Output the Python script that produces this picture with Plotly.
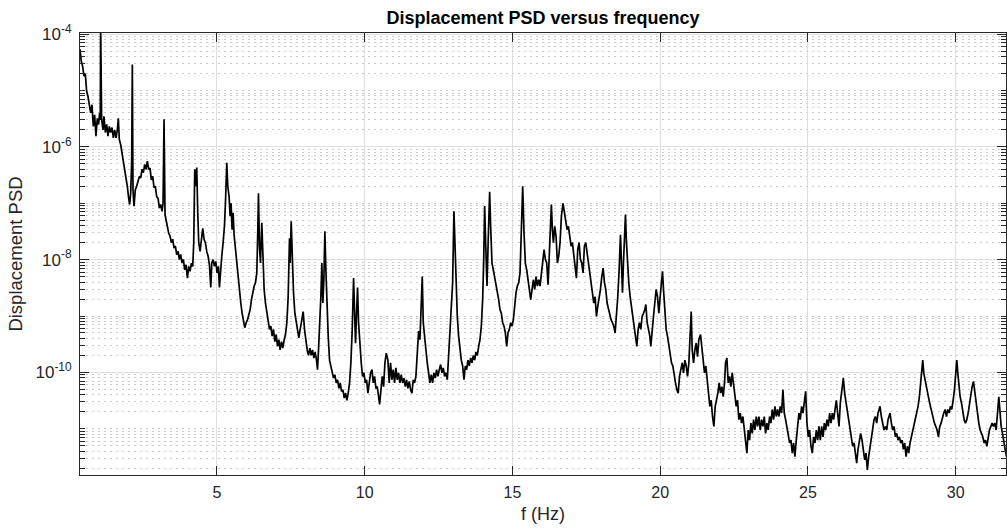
import plotly.graph_objects as go

# ---- data (frequency in Hz, displacement PSD) ----
f_low = [
    0.368, 0.413, 0.459, 0.504, 0.549, 0.594, 0.639, 0.684, 0.730, 0.775,
    0.820, 0.865, 0.910, 0.955, 1.000, 1.034, 1.056, 1.068, 1.080, 1.102,
    1.147, 1.181, 1.226, 1.272, 1.317, 1.362, 1.407, 1.452, 1.497, 1.542,
    1.588, 1.633, 1.667, 1.700, 1.746, 1.791, 1.836, 1.881, 1.926, 1.971,
    2.016, 2.050, 2.084, 2.118, 2.141, 2.163, 2.197, 2.242, 2.288, 2.333,
    2.378, 2.423, 2.468, 2.513, 2.559, 2.604, 2.649, 2.694, 2.739, 2.784,
    2.830, 2.875, 2.920, 2.965, 3.010, 3.055, 3.100, 3.146, 3.180, 3.213,
    3.247, 3.281, 3.326, 3.371, 3.417, 3.462, 3.507, 3.552, 3.597, 3.642,
    3.688, 3.733, 3.778, 3.823, 3.868, 3.913, 3.959, 4.004, 4.049, 4.094,
    4.139, 4.184, 4.218, 4.252, 4.286, 4.320, 4.354, 4.387, 4.433, 4.478,
    4.523, 4.568, 4.613, 4.658, 4.704, 4.749, 4.794, 4.828, 4.873, 4.918,
    4.963, 5.008, 5.054, 5.087, 5.121, 5.167, 5.212, 5.257, 5.291, 5.336,
    5.370, 5.415, 5.449, 5.482, 5.516, 5.550, 5.584, 5.629, 5.674, 5.720,
    5.765, 5.810, 5.855, 5.900, 5.945, 5.991, 6.036, 6.081, 6.126, 6.171,
    6.216, 6.262, 6.307, 6.352, 6.386, 6.408, 6.442, 6.476, 6.521, 6.555,
    6.600, 6.645, 6.691, 6.736, 6.781, 6.826, 6.871, 6.916, 6.962, 7.007,
    7.052, 7.097, 7.142, 7.187, 7.233, 7.278, 7.323, 7.368, 7.413, 7.458,
    7.481, 7.515, 7.549, 7.594, 7.639, 7.684, 7.729, 7.774, 7.820, 7.865,
    7.921, 7.966, 8.011, 8.056, 8.101, 8.147, 8.192, 8.237, 8.282, 8.327,
    8.372, 8.406, 8.440, 8.485, 8.519, 8.553, 8.587, 8.621, 8.655, 8.689,
    8.722, 8.768, 8.813, 8.858, 8.903, 8.948, 8.993, 9.039, 9.084, 9.129,
    9.174, 9.219, 9.264, 9.310, 9.355, 9.400, 9.445, 9.490, 9.535, 9.581,
    9.626, 9.660, 9.693, 9.727, 9.761, 9.795, 9.840, 9.885, 9.930, 9.976,
    10.021, 10.066, 10.111, 10.156, 10.202, 10.247, 10.292, 10.337, 10.382, 10.427,
    10.473, 10.507, 10.552, 10.597, 10.642, 10.687, 10.732,
]
psd_low = [
    5.4e-5, 3.3e-5, 2.7e-5, 1.8e-5, 2.0e-5, 9.8e-6, 7.9e-6, 5.2e-6, 4.0e-6, 5.6e-6,
    2.3e-6, 3.7e-6, 1.55e-6, 3.2e-6, 2.5e-6, 4.0e-6, 3.0e-6, 1.5e-4, 3.5e-6, 3.1e-6,
    2.0e-6, 3.5e-6, 1.8e-6, 2.5e-6, 1.55e-6, 2.3e-6, 1.8e-6, 2.2e-6, 1.45e-6, 2.0e-6,
    1.45e-6, 2.0e-6, 3.2e-6, 1.35e-6, 1.1e-6, 7.8e-7, 6.3e-7, 4.0e-7, 3.0e-7, 2.0e-7,
    1.23e-7, 9.5e-8, 1.5e-7, 5.2e-7, 2.9e-5, 1.74e-7, 8.9e-8, 1.74e-7, 2.0e-7, 2.45e-7,
    3.0e-7, 2.8e-7, 4.0e-7, 3.5e-7, 4.9e-7, 4.0e-7, 5.6e-7, 4.0e-7, 4.2e-7, 2.6e-7,
    3.0e-7, 1.9e-7, 2.0e-7, 1.3e-7, 1.23e-7, 8.3e-8, 9.5e-8, 7.2e-8, 1.0e-7, 3.1e-6,
    6.3e-8, 5.1e-8, 3.6e-8, 2.95e-8, 2.6e-8, 2.0e-8, 2.3e-8, 1.6e-8, 1.74e-8, 1.23e-8,
    1.4e-8, 1.0e-8, 1.23e-8, 8.7e-9, 1.0e-8, 6.6e-9, 8.1e-9, 4.7e-9, 7.6e-9, 6.2e-9,
    8.7e-9, 7.6e-9, 2.0e-8, 4.0e-7, 2.0e-7, 4.3e-7, 6.8e-8, 2.0e-8, 1.4e-8, 2.6e-8,
    3.6e-8, 2.3e-8, 2.0e-8, 1.4e-8, 1.15e-8, 8.1e-9, 3.2e-9, 8.7e-9, 1.0e-8, 7.6e-9,
    9.3e-9, 5.8e-9, 7.6e-9, 3.2e-9, 6.6e-9, 1.15e-8, 2.0e-8, 3.9e-8, 1.0e-7, 5.2e-7,
    2.0e-7, 1.3e-7, 5.9e-8, 1.0e-7, 3.4e-8, 6.8e-8, 2.75e-8, 1.5e-8, 8.7e-9, 4.4e-9,
    2.6e-9, 1.7e-9, 1.12e-9, 8.5e-10, 6.2e-10, 7.6e-10, 8.5e-10, 1.05e-9, 1.3e-9, 1.95e-9,
    2.6e-9, 3.4e-9, 3.9e-9, 5.8e-9, 3.4e-8, 1.5e-7, 1.74e-8, 8.7e-9, 4.5e-8, 8.7e-9,
    2.95e-9, 1.7e-9, 1.12e-9, 7.6e-10, 5.8e-10, 6.6e-10, 4.4e-10, 5.8e-10, 3.5e-10, 4.7e-10,
    2.9e-10, 3.8e-10, 2.5e-10, 3.5e-10, 2.7e-10, 3.8e-10, 4.7e-10, 7.6e-10, 2.2e-9, 2.4e-8,
    8.7e-9, 4.8e-8, 8.7e-9, 2.6e-9, 1.12e-9, 7.6e-10, 5.0e-10, 4.1e-10, 5.8e-10, 7.6e-10,
    1.2e-9, 5.8e-10, 3.5e-10, 2.5e-10, 2.0e-10, 2.7e-10, 2.0e-10, 2.5e-10, 1.8e-10, 2.3e-10,
    1.65e-10, 1.12e-10, 2.5e-10, 7.6e-10, 2.2e-9, 8.7e-9, 1.7e-9, 4.4e-9, 3.2e-8, 6.6e-9,
    1.7e-9, 4.4e-10, 1.65e-10, 1.3e-10, 9.8e-11, 7.9e-11, 9.1e-11, 6.5e-11, 7.4e-11, 5.2e-11,
    6.5e-11, 4.6e-11, 4.9e-11, 3.5e-11, 4.3e-11, 3.2e-11, 4.3e-11, 6.5e-11, 1.48e-10, 5.8e-10,
    4.7e-9, 1.12e-9, 3.3e-10, 1.12e-9, 3.2e-9, 7.6e-10, 2.5e-10, 1.48e-10, 8.5e-11, 9.8e-11,
    6.5e-11, 7.4e-11, 4.3e-11, 6.5e-11, 9.8e-11, 1.12e-10, 6.5e-11, 8.5e-11, 5.2e-11, 5.6e-11,
    3.2e-11, 2.7e-11, 4.9e-11, 8.5e-11, 5.6e-11, 1.48e-10, 2.2e-10,
]

f_mid = [
    10.787, 10.832, 10.877, 10.922, 10.968, 11.013, 11.058, 11.103, 11.148, 11.193,
    11.239, 11.284, 11.329, 11.374, 11.419, 11.464, 11.510, 11.555, 11.600, 11.645,
    11.690, 11.735, 11.780, 11.826, 11.871, 11.916, 11.950, 11.984, 12.029, 12.074,
    12.119, 12.164, 12.209, 12.255, 12.300, 12.345, 12.390, 12.435, 12.480, 12.526,
    12.571, 12.616, 12.661, 12.706, 12.751, 12.797, 12.842, 12.887, 12.932, 12.977,
    13.022, 13.056, 13.090, 13.135, 13.180, 13.225, 13.271, 13.316, 13.361, 13.406,
    13.451, 13.496, 13.542, 13.587, 13.632, 13.677, 13.722, 13.767, 13.813, 13.858,
    13.903, 13.948, 13.993, 14.027, 14.061, 14.095, 14.140, 14.185, 14.230, 14.264,
    14.309, 14.354, 14.400, 14.445, 14.490, 14.535, 14.580, 14.625, 14.671, 14.716,
    14.761, 14.806, 14.851, 14.896, 14.942, 14.987, 15.032, 15.077, 15.122, 15.167,
    15.213, 15.258, 15.303, 15.348, 15.393, 15.438, 15.484, 15.529, 15.574, 15.619,
    15.664, 15.709, 15.755, 15.800, 15.845, 15.890, 15.935, 15.980, 16.026, 16.071,
    16.116, 16.161, 16.206, 16.251, 16.296, 16.319, 16.353, 16.387, 16.432, 16.477,
    16.522, 16.567, 16.612, 16.658, 16.714, 16.759, 16.804, 16.849, 16.894, 16.940,
    16.985, 17.030, 17.075, 17.120, 17.165, 17.211, 17.256, 17.301, 17.346, 17.391,
    17.436, 17.482, 17.527, 17.572, 17.617, 17.662, 17.707, 17.753, 17.798, 17.843,
    17.888, 17.933, 17.978, 18.024, 18.069, 18.114, 18.159, 18.204, 18.249, 18.295,
    18.340, 18.385, 18.430, 18.475, 18.520, 18.565, 18.611, 18.656, 18.690, 18.724,
    18.757, 18.791, 18.825, 18.859, 18.893, 18.938, 18.983, 19.028, 19.073, 19.118,
    19.164, 19.209, 19.254, 19.299, 19.344, 19.389, 19.435, 19.480, 19.514, 19.559,
    19.604, 19.649, 19.683, 19.728, 19.773, 19.818, 19.863, 19.909, 19.954, 19.999,
    20.044, 20.078, 20.112, 20.157, 20.202, 20.247, 20.293, 20.338, 20.383, 20.428,
    20.473, 20.518, 20.564, 20.609, 20.654, 20.699, 20.744, 20.789, 20.835, 20.880,
    20.925, 20.970, 21.015, 21.049, 21.083, 21.128, 21.173,
]
psd_mid = [
    1.65e-10, 6.5e-11, 1.48e-10, 7.4e-11, 1.12e-10, 6.5e-11, 1.2e-10, 7.4e-11, 9.8e-11, 6.5e-11,
    9.1e-11, 6.5e-11, 7.9e-11, 5.6e-11, 7.4e-11, 5.2e-11, 6.9e-11, 4.9e-11, 4.3e-11, 7.4e-11,
    6.5e-11, 8.5e-11, 1.9e-10, 5.4e-10, 3.8e-10, 1.48e-9, 5.0e-9, 7.6e-10, 3.8e-10, 2.5e-10,
    1.48e-10, 9.8e-11, 6.5e-11, 9.1e-11, 6.5e-11, 9.8e-11, 7.9e-11, 1.12e-10, 8.5e-11, 1.12e-10,
    1.38e-10, 9.8e-11, 1.2e-10, 8.5e-11, 9.8e-11, 7.4e-11, 2.2e-10, 7.6e-10, 1.95e-9, 3.9e-9,
    7.2e-8, 1.74e-8, 2.95e-9, 9.8e-10, 4.4e-10, 2.5e-10, 1.65e-10, 1.3e-10, 7.4e-11, 1.3e-10,
    1.12e-10, 1.65e-10, 1.3e-10, 1.8e-10, 1.48e-10, 2.0e-10, 1.65e-10, 2.3e-10, 2.0e-10, 2.9e-10,
    3.8e-10, 6.6e-10, 1.95e-9, 8.7e-9, 8.9e-8, 2.0e-8, 3.4e-9, 2.6e-8, 1.6e-7, 3.9e-8,
    8.7e-9, 6.6e-9, 5.0e-9, 3.9e-9, 2.6e-9, 1.95e-9, 1.3e-9, 1.12e-9, 7.6e-10, 6.6e-10,
    5.0e-10, 2.9e-10, 5.0e-10, 5.8e-10, 7.6e-10, 6.6e-10, 8.5e-10, 1.7e-9, 2.6e-9, 3.4e-9,
    3.9e-9, 5.8e-9, 2.6e-8, 2.0e-7, 2.95e-8, 8.7e-9, 6.6e-9, 3.9e-9, 2.95e-9, 1.95e-9,
    3.4e-9, 4.4e-9, 2.95e-9, 5.0e-9, 3.4e-9, 4.4e-9, 3.4e-9, 5.8e-9, 8.7e-9, 1.5e-8,
    1.0e-8, 8.7e-9, 3.6e-9, 1.74e-8, 5.9e-8, 9.5e-8, 3.4e-8, 2.0e-8, 3.9e-8, 2.6e-8,
    8.7e-9, 1.15e-8, 2.0e-8, 5.9e-8, 1.0e-7, 6.8e-8, 5.1e-8, 3.4e-8, 3.9e-8, 2.3e-8,
    1.74e-8, 2.0e-8, 1.15e-8, 8.7e-9, 4.7e-9, 1.5e-8, 2.0e-8, 1.0e-8, 8.7e-9, 5.8e-9,
    1.74e-8, 2.0e-8, 1.3e-8, 1.0e-8, 6.6e-9, 4.4e-9, 2.6e-9, 1.7e-9, 2.2e-9, 9.8e-10,
    1.48e-9, 1.95e-9, 2.95e-9, 5.0e-9, 7.1e-9, 3.9e-9, 2.95e-9, 1.7e-9, 1.3e-9, 1.12e-9,
    8.5e-10, 7.6e-10, 6.6e-10, 5.0e-10, 9.8e-10, 2.2e-9, 6.6e-9, 2.75e-8, 8.7e-9, 2.6e-9,
    8.7e-9, 2.6e-8, 6.3e-8, 2.0e-8, 8.7e-9, 3.9e-9, 2.2e-9, 1.48e-9, 9.8e-10, 7.6e-10,
    4.4e-10, 2.9e-10, 5.8e-10, 7.6e-10, 5.8e-10, 9.8e-10, 1.12e-9, 1.3e-9, 1.6e-9, 7.6e-10,
    5.8e-10, 4.4e-10, 2.9e-10, 6.6e-10, 9.8e-10, 1.7e-9, 2.95e-9, 2.2e-9, 1.12e-9, 2.2e-9,
    3.9e-9, 6.2e-9, 2.95e-9, 9.8e-10, 5.8e-10, 4.4e-10, 2.9e-10, 2.2e-10, 1.48e-10, 1.3e-10,
    8.5e-11, 6.5e-11, 4.9e-11, 4.3e-11, 8.5e-11, 1.12e-10, 1.48e-10, 9.8e-11, 1.65e-10, 1.3e-10,
    8.5e-11, 1.48e-10, 4.4e-10, 1.2e-9, 2.5e-10, 1.48e-10, 2.5e-10,
]

f_high = [
    21.217, 21.262, 21.307, 21.364, 21.409, 21.454, 21.499, 21.545, 21.590, 21.635,
    21.680, 21.725, 21.770, 21.816, 21.861, 21.906, 21.951, 21.996, 22.041, 22.087,
    22.132, 22.177, 22.211, 22.256, 22.301, 22.346, 22.391, 22.437, 22.482, 22.527,
    22.572, 22.617, 22.662, 22.708, 22.753, 22.798, 22.843, 22.888, 22.933, 22.979,
    23.024, 23.069, 23.114, 23.159, 23.204, 23.250, 23.295, 23.340, 23.385, 23.430,
    23.475, 23.521, 23.566, 23.611, 23.656, 23.701, 23.746, 23.792, 23.837, 23.882,
    23.927, 23.972, 24.017, 24.062, 24.108, 24.153, 24.198, 24.243, 24.288, 24.333,
    24.379, 24.424, 24.469, 24.514, 24.559, 24.604, 24.650, 24.695, 24.740, 24.785,
    24.830, 24.875, 24.921, 24.966, 25.011, 25.056, 25.101, 25.146, 25.192, 25.237,
    25.282, 25.327, 25.372, 25.417, 25.463, 25.508, 25.553, 25.598, 25.643, 25.688,
    25.734, 25.779, 25.824, 25.869, 25.914, 25.959, 26.004, 26.050, 26.095, 26.140,
    26.196, 26.241, 26.287, 26.332, 26.377, 26.422, 26.467, 26.512, 26.558, 26.603,
    26.648, 26.693, 26.738, 26.783, 26.829, 26.874, 26.919, 26.964, 27.009, 27.054,
    27.100, 27.145, 27.190, 27.235, 27.280, 27.325, 27.371, 27.438, 27.483, 27.528,
    27.573, 27.619, 27.664, 27.709, 27.777, 27.822, 27.867, 27.912, 27.957, 28.002,
    28.048, 28.093, 28.138, 28.183, 28.228, 28.273, 28.319, 28.364, 28.409, 28.454,
    28.499, 28.544, 28.590, 28.635, 28.680, 28.725, 28.770, 28.815, 28.849, 28.883,
    28.917, 28.962, 29.007, 29.052, 29.098, 29.143, 29.188, 29.233, 29.278, 29.323,
    29.369, 29.414, 29.459, 29.504, 29.549, 29.594, 29.640, 29.685, 29.730, 29.775,
    29.820, 29.865, 29.911, 29.956, 30.001, 30.035, 30.069, 30.102, 30.148, 30.193,
    30.238, 30.283, 30.328, 30.373, 30.419, 30.464, 30.509, 30.554, 30.599, 30.644,
    30.690, 30.735, 30.780, 30.825, 30.870, 30.915, 30.961, 31.006, 31.051, 31.096,
    31.141, 31.186, 31.232, 31.277, 31.322, 31.367, 31.412, 31.457, 31.491, 31.536,
    31.582, 31.627, 31.672, 31.717,
]
psd_high = [
    3.3e-10, 1.9e-10, 3.8e-10, 4.7e-10, 2.9e-10, 1.48e-10, 9.8e-11, 1.3e-10, 6.5e-11, 4.3e-11,
    2.5e-11, 3.2e-11, 1.65e-11, 1.1e-11, 2.5e-11, 3.2e-11, 4.3e-11, 6.5e-11, 4.3e-11, 5.6e-11,
    3.7e-11, 6.5e-11, 1.48e-10, 1.8e-10, 6.5e-11, 8.5e-11, 5.6e-11, 9.8e-11, 6.5e-11, 3.7e-11,
    2.5e-11, 3.2e-11, 1.45e-11, 1.9e-11, 1.26e-11, 1.65e-11, 9.5e-12, 6.3e-12, 3.7e-12, 9.5e-12,
    6.3e-12, 1.26e-11, 8.3e-12, 1.45e-11, 9.5e-12, 1.65e-11, 1.1e-11, 1.65e-11, 9.5e-12, 1.45e-11,
    1.1e-11, 1.65e-11, 8.3e-12, 1.26e-11, 9.5e-12, 1.65e-11, 1.26e-11, 2.2e-11, 1.45e-11, 2.5e-11,
    1.65e-11, 2.2e-11, 1.65e-11, 2.5e-11, 1.9e-11, 4.9e-11, 1.9e-11, 1.45e-11, 1.1e-11, 7.2e-12,
    5.6e-12, 6.3e-12, 3.7e-12, 5.6e-12, 3.2e-12, 6.3e-12, 1.26e-11, 1.9e-11, 1.45e-11, 2.5e-11,
    1.9e-11, 2.9e-11, 4.6e-11, 1.26e-11, 7.2e-12, 9.5e-12, 4.9e-12, 3.7e-12, 7.2e-12, 5.6e-12,
    9.5e-12, 6.3e-12, 1.1e-11, 6.3e-12, 1.1e-11, 7.2e-12, 1.26e-11, 9.5e-12, 1.45e-11, 1.1e-11,
    1.9e-11, 1.26e-11, 1.9e-11, 1.45e-11, 2.5e-11, 3.2e-11, 1.9e-11, 1.1e-11, 2.9e-11, 4.9e-11,
    7.9e-11, 4.3e-11, 2.9e-11, 1.9e-11, 1.26e-11, 9.5e-12, 7.2e-12, 4.9e-12, 5.6e-12, 3.2e-12,
    2.45e-12, 4.3e-12, 5.6e-12, 8.3e-12, 6.3e-12, 3.7e-12, 2.8e-12, 3.7e-12, 1.86e-12, 3.2e-12,
    4.9e-12, 7.2e-12, 1.1e-11, 1.45e-11, 1.65e-11, 1.26e-11, 1.9e-11, 2.5e-11, 1.65e-11, 1.26e-11,
    9.5e-12, 1.1e-11, 9.5e-12, 1.45e-11, 1.9e-11, 1.26e-11, 9.5e-12, 1.1e-11, 7.2e-12, 8.3e-12,
    6.3e-12, 7.2e-12, 5.6e-12, 6.3e-12, 4.3e-12, 5.6e-12, 3.2e-12, 4.9e-12, 3.7e-12, 5.6e-12,
    7.2e-12, 9.5e-12, 1.1e-11, 1.45e-11, 1.9e-11, 2.5e-11, 3.7e-11, 6.5e-11, 1.12e-10, 1.65e-10,
    9.8e-11, 7.4e-11, 4.9e-11, 3.7e-11, 3.2e-11, 2.5e-11, 1.9e-11, 1.65e-11, 1.26e-11, 1.1e-11,
    9.5e-12, 7.2e-12, 1.1e-11, 1.26e-11, 1.65e-11, 1.9e-11, 2.2e-11, 1.65e-11, 2.2e-11, 1.9e-11,
    2.5e-11, 2.2e-11, 3.2e-11, 4.9e-11, 9.8e-11, 1.65e-10, 9.8e-11, 5.6e-11, 3.7e-11, 2.9e-11,
    1.9e-11, 1.45e-11, 1.26e-11, 1.45e-11, 1.9e-11, 2.9e-11, 3.7e-11, 5.6e-11, 6.9e-11, 4.3e-11,
    2.9e-11, 1.9e-11, 1.26e-11, 9.5e-12, 8.3e-12, 7.2e-12, 5.6e-12, 6.3e-12, 4.9e-12, 7.2e-12,
    9.5e-12, 1.1e-11, 1.26e-11, 1.1e-11, 1.26e-11, 9.5e-12, 1.65e-11, 3.7e-11, 2.2e-11, 1.1e-11,
    8.3e-12, 5.6e-12, 4.3e-12, 3.2e-12,
]

x_tick_vals = [5, 10, 15, 20, 25, 30]
y_tick_vals = [1e-10, 1e-8, 1e-6, 1e-4]
y_tick_text = ["10<sup>-10</sup>", "10<sup>-8</sup>", "10<sup>-6</sup>", "10<sup>-4</sup>"]

assert len(f_low) == len(psd_low)
assert len(f_mid) == len(psd_mid)
assert len(f_high) == len(psd_high)

freq = f_low + f_mid + f_high
psd = psd_low + psd_mid + psd_high

# minor (dotted) grid positions on the log axis: 1..9 x 10^n, skipping the labelled decades
y_minor_vals = [k * 10.0 ** n for n in range(-12, -3) for k in range(1, 10)
                if not (k == 1 and (10.0 ** n) in y_tick_vals)]

AX = "#262626"
FONT = "Liberation Sans, Arial, Helvetica, sans-serif"

fig = go.Figure()
fig.add_trace(go.Scatter(x=freq, y=psd, mode="lines",
                         line=dict(color="black", width=1.7),
                         hoverinfo="skip", showlegend=False))

fig.update_layout(
    width=1007, height=532,
    margin=dict(l=80, r=1, t=33, b=57),
    paper_bgcolor="white", plot_bgcolor="white",
    font=dict(family=FONT, color=AX),
    title=dict(text="<b>Displacement PSD versus frequency</b>",
               x=0.5, xref="paper", xanchor="center",
               y=1 - 18 / 532, yref="container", yanchor="middle",
               font=dict(size=18, color="black", family=FONT)),
    showlegend=False,
)

fig.update_xaxes(
    range=[0.37, 31.7], tickmode="array", tickvals=x_tick_vals,
    ticks="inside", ticklen=9, tickwidth=1, tickcolor=AX,
    showline=True, linecolor=AX, linewidth=1, mirror="allticks",
    showgrid=True, gridcolor="#dedede", gridwidth=1, zeroline=False,
    tickfont=dict(size=16, color=AX), ticklabelstandoff=3,
    title=dict(text="f (Hz)", font=dict(size=18, color=AX), standoff=7),
)

fig.update_yaxes(
    type="log", range=[-11.82, -3.98],
    tickmode="array", tickvals=y_tick_vals, ticktext=y_tick_text,
    ticks="inside", ticklen=9, tickwidth=1, tickcolor=AX,
    showline=True, linecolor=AX, linewidth=1, mirror="allticks",
    showgrid=True, gridcolor="#dedede", gridwidth=1, zeroline=False,
    tickfont=dict(size=17, color=AX), ticklabelstandoff=4,
    minor=dict(tickmode="array", tickvals=y_minor_vals, ticks="inside", ticklen=5,
               tickcolor=AX, showgrid=True, gridcolor="#cacaca",
               griddash="2px,4px", gridwidth=1),
    title=dict(text="Displacement PSD", font=dict(size=18.5, color=AX), standoff=8),
)

fig.write_html("out.html")
